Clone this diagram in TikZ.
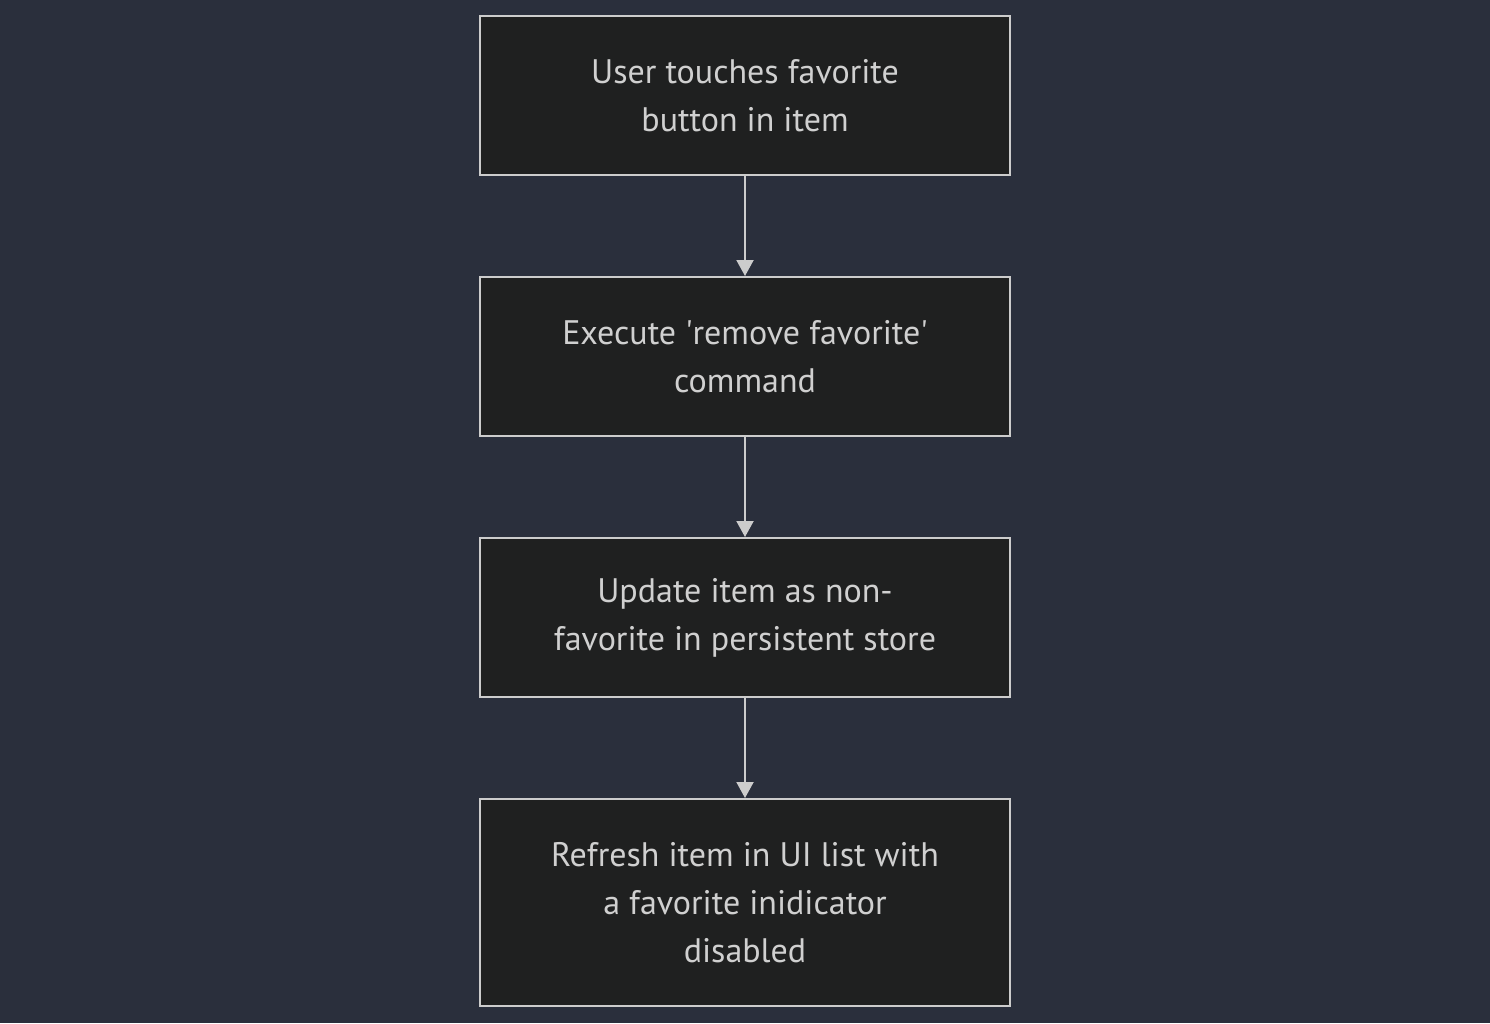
\documentclass[tikz,border=0pt]{standalone}
\usepackage{fontspec}
\setmainfont{PT Sans}
\usetikzlibrary{arrows.meta}
\definecolor{bgc}{HTML}{2A2F3C}
\definecolor{boxfill}{HTML}{1F2020}
\definecolor{linec}{HTML}{CCCCCC}
\definecolor{textc}{HTML}{D0D0D0}
\tikzset{
  flowbox/.style={draw=linec, fill=boxfill, line width=2pt, minimum width=530pt,
    text=textc, align=center, font=\fontsize{34}{48}\selectfont, inner sep=0pt},
  flowarrow/.style={draw=linec, line width=2pt, -{Triangle[length=16pt,width=17pt,fill=linec]}}
}
\begin{document}
\begin{tikzpicture}[x=1pt,y=-1pt]
\fill[bgc] (0,0) rectangle (1490,1023);
\useasboundingbox (0,0) rectangle (1490,1023);
\node[flowbox, minimum height=159pt] (a) at (745,95.5) {User touches favorite\\button in item};
\node[flowbox, minimum height=159pt] (b) at (745,356.5) {Execute \textquotesingle remove favorite\textquotesingle\\command};
\node[flowbox, minimum height=159pt] (c) at (745,617.5) {Update item as non-\\favorite in persistent store};
\node[flowbox, minimum height=207pt] (d) at (745,902.5) {Refresh item in UI list with\\a favorite inidicator\\disabled};
\draw[flowarrow] (a) -- (b);
\draw[flowarrow] (b) -- (c);
\draw[flowarrow] (c) -- (d);
\end{tikzpicture}
\end{document}
